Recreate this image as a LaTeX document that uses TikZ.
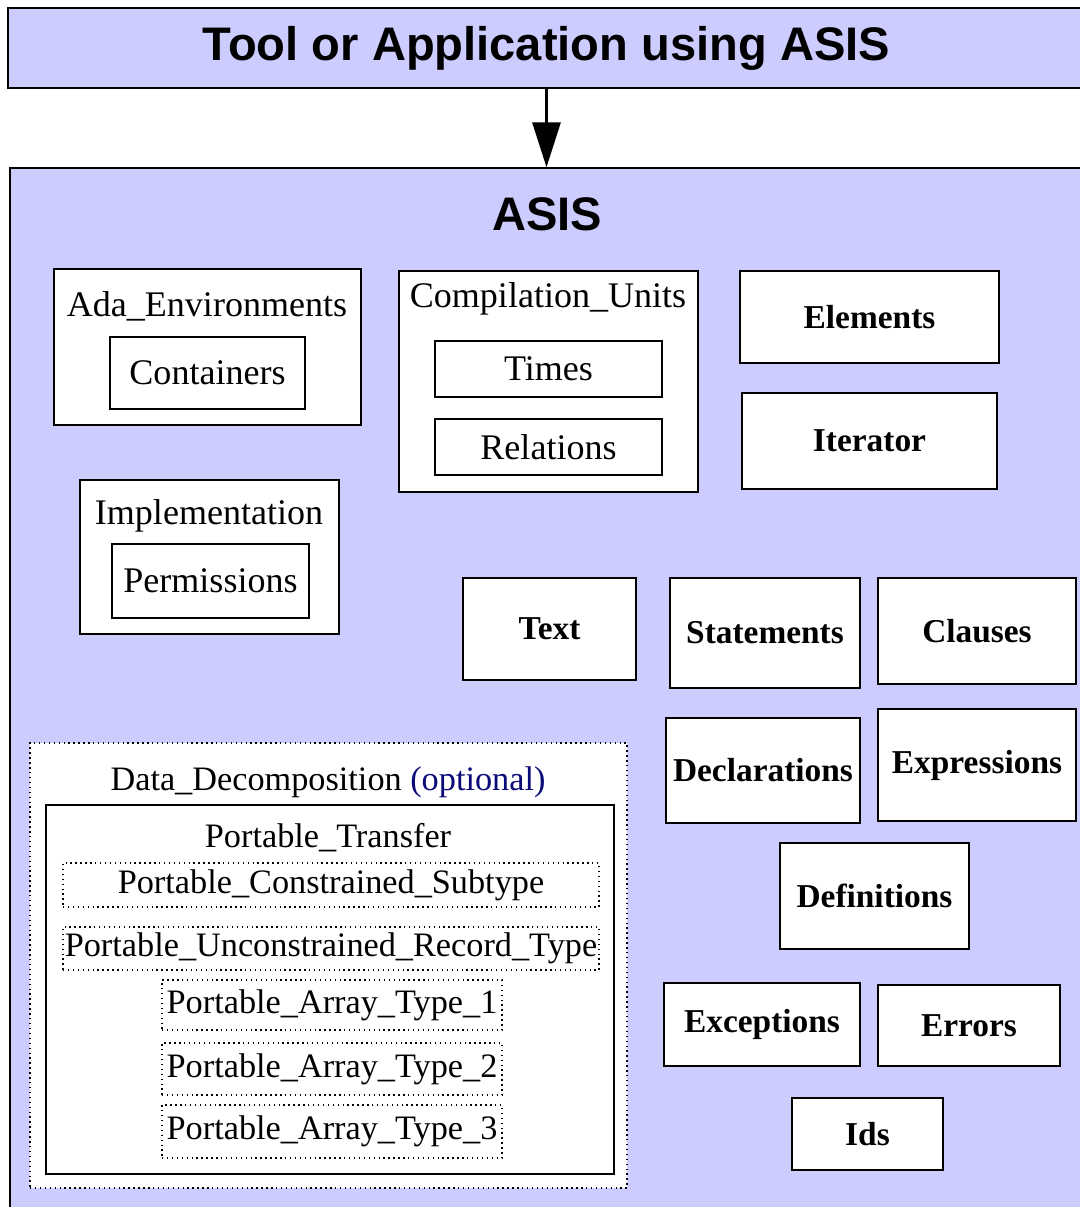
\documentclass[tikz,border=0pt]{standalone}
\usepackage{fontspec}
\setmainfont{Liberation Serif}
\setsansfont{Liberation Sans}
\usepackage{tikz}
\usetikzlibrary{positioning, arrows.meta}

\definecolor{asisbg}{RGB}{204,204,255}
\definecolor{optblue}{RGB}{10,10,120}

\begin{document}
\begin{tikzpicture}[
    x=0.2mm, y=-0.2mm,
    sz/.style 2 args={minimum width=#1*0.2mm, minimum height=#2*0.2mm},
    layer/.style={draw, fill=asisbg, line width=0.8pt, inner sep=0pt, font=\sffamily\bfseries\fontsize{26.8}{30}\selectfont},
    pkg/.style={draw, fill=white, line width=0.8pt, inner sep=0pt, font=\fontsize{20.5}{23}\selectfont},
    bpkg/.style={pkg, font=\bfseries\fontsize{19}{22}\selectfont},
    opt/.style={pkg, dotted, font=\fontsize{19.5}{22}\selectfont},
    title/.style={inner sep=0pt, font=\fontsize{20.5}{23}\selectfont},
    dtitle/.style={title, font=\fontsize{19.5}{22}\selectfont},
    flow/.style={line width=1.7pt, -{Triangle[length=9mm, width=5.6mm]}}
]
    \useasboundingbox (0,0) rectangle (1079,1207);

    % client and the ASIS layer
    \node[layer, sz={1077}{80}] (tool) at (546.5,48) {Tool or Application using ASIS};
    \node[layer, sz={1075}{1047}] (asis) at (547.5,691.5) {};
    \node[layer, draw=none, fill=none] (asisname) at (547,214) {ASIS};
    \draw[flow] (tool.south) -- (tool.south |- asis.north);

    % packages with children
    \node[pkg, sz={307}{156}] (adaenv) at (207.5,347) {};
    \node[title] at (207,306) {Ada\_Environments};
    \node[pkg, sz={195}{72}] (containers) at (207.5,373) {Containers};

    \node[pkg, sz={299}{221}] (compunits) at (548.5,381.5) {};
    \node[title] at (548,299) {Compilation\_Units};
    \node[pkg, sz={227}{56}] (times) at (548.5,369) {Times};
    \node[pkg, sz={227}{56}] (relations) at (548.5,447) {Relations};

    \node[pkg, sz={259}{154}] (impl) at (209.5,557) {};
    \node[title] at (209,516) {Implementation};
    \node[pkg, sz={197}{74}] (permissions) at (210.5,581) {Permissions};

    % single packages
    \node[bpkg, sz={259}{92}] (elements) at (869.5,317) {Elements};
    \node[bpkg, sz={255}{96}] (iterator) at (869.5,441) {Iterator};
    \node[bpkg, sz={173}{102}] (text) at (549.5,629) {Text};
    \node[bpkg, sz={190}{110}] (statements) at (765,633) {Statements};
    \node[bpkg, sz={198}{106}] (clauses) at (977,631) {Clauses};
    \node[bpkg, sz={194}{105}] (declarations) at (763,770.5) {Declarations};
    \node[bpkg, sz={198}{112}] (expressions) at (977,765) {Expressions};
    \node[bpkg, sz={189}{106}] (definitions) at (874.5,896) {Definitions};
    \node[bpkg, sz={196}{83}] (exceptions) at (762,1024.5) {Exceptions};
    \node[bpkg, sz={182}{81}] (errors) at (969,1025.5) {Errors};
    \node[bpkg, sz={151}{72}] (ids) at (867.5,1134) {Ids};

    % optional data decomposition
    \node[opt, sz={597}{445}] (datadec) at (328.5,965.5) {};
    \node[dtitle] at (328,782) {Data\_Decomposition \textcolor{optblue}{(optional)}};
    \node[pkg, sz={568}{369}] (transfer) at (330,989.5) {};
    \node[dtitle] at (328,838) {Portable\_Transfer};
    \node[opt, sz={536}{44}] (constr) at (331,885) {Portable\_Constrained\_Subtype};
    \node[opt, sz={536}{43}] (unconstr) at (331,948.5) {Portable\_Unconstrained\_Record\_Type};
    \node[opt, sz={340}{50}] (array1) at (332,1005) {Portable\_Array\_Type\_1};
    \node[opt, sz={340}{52}] (array2) at (332,1069) {Portable\_Array\_Type\_2};
    \node[opt, sz={340}{53}] (array3) at (332,1131.5) {Portable\_Array\_Type\_3};
\end{tikzpicture}
\end{document}
